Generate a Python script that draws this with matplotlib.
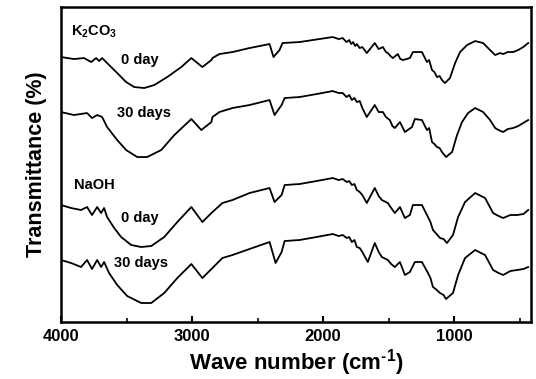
import matplotlib
matplotlib.use("Agg")
import matplotlib.pyplot as plt
from matplotlib.ticker import MultipleLocator

plt.rcParams['font.family'] = ['Liberation Sans', 'DejaVu Sans']
plt.rcParams['font.weight'] = 'bold'
plt.rcParams['mathtext.fontset'] = 'custom'
plt.rcParams['mathtext.rm'] = 'Liberation Sans:bold'
plt.rcParams['mathtext.bf'] = 'Liberation Sans:bold'
plt.rcParams['mathtext.default'] = 'bf'

# Wavenumber (cm^-1) and transmittance (a.u.)
k2co3_0_wn = [4000, 3901, 3824, 3770, 3732, 3709, 3686, 3648, 3571, 3503, 3441, 3365, 3288, 3189,
              3082, 3005, 2921, 2852, 2844, 2791, 2691, 2561, 2408, 2378, 2332, 2309, 2179, 2079,
              1926, 1880, 1850, 1820, 1800, 1785, 1770, 1755, 1742, 1720, 1700, 1666, 1605, 1575,
              1543, 1520, 1505, 1485, 1467, 1429, 1410, 1390, 1337, 1314, 1245, 1207, 1190, 1168,
              1150, 1130, 1110, 1092, 1069, 1031, 992, 954, 901, 839, 778, 725, 686, 650, 625,
              590, 549, 510, 472, 434]
k2co3_0_t = [265, 263, 264, 260, 264, 261, 264, 259, 249, 240, 235, 234, 237, 245,
             255, 264, 255, 262, 264, 268, 270, 274, 278, 265, 272, 279, 280, 282,
             285, 283, 284, 280, 282, 278, 280, 276, 278, 274, 275, 269, 279, 273,
             275, 270, 269, 266, 264, 268, 263, 262, 264, 270, 270, 260, 262, 252,
             250, 245, 246, 242, 239, 244, 259, 270, 277, 281, 279, 272, 267, 269, 268,
             270, 270, 272, 275, 279]

k2co3_30_wn = [4000, 3901, 3801, 3763, 3724, 3686, 3648, 3571, 3503, 3418, 3342, 3235, 3135, 3005,
               2929, 2852, 2844, 2791, 2691, 2561, 2408, 2370, 2316, 2293, 2179, 2049, 1926, 1880,
               1850, 1820, 1800, 1780, 1760, 1742, 1720, 1700, 1666, 1605, 1575, 1543, 1520, 1490,
               1470, 1452, 1413, 1375, 1321, 1299, 1245, 1207, 1190, 1168, 1150, 1130, 1110, 1092,
               1061, 1015, 977, 939, 893, 839, 778, 725, 686, 660, 625, 590, 549, 510, 472, 434]
k2co3_30_t = [210, 207, 209, 204, 207, 205, 195, 182, 172, 165, 165, 172, 187, 203,
              192, 200, 205, 210, 214, 217, 222, 207, 217, 224, 225, 228, 231, 229,
              229, 225, 227, 222, 224, 220, 221, 214, 205, 217, 210, 210, 205, 202,
              196, 194, 200, 190, 195, 203, 202, 192, 194, 180, 178, 175, 174, 170,
              165, 170, 187, 200, 209, 214, 210, 202, 194, 192, 190, 193, 194, 196, 199, 202]

naoh_0_wn = [4000, 3923, 3847, 3801, 3763, 3724, 3694, 3671, 3648, 3594, 3541, 3464, 3388, 3311,
             3212, 3112, 3005, 2921, 2852, 2768, 2691, 2561, 2408, 2370, 2316, 2293, 2179, 2049,
             1926, 1880, 1850, 1819, 1800, 1780, 1760, 1742, 1720, 1700, 1666, 1605, 1575, 1551,
             1505, 1480, 1452, 1413, 1375, 1337, 1314, 1245, 1199, 1180, 1161, 1140, 1107, 1080,
             1054, 1008, 969, 916, 839, 763, 702, 660, 625, 570, 518, 470, 434]
naoh_0_t = [117, 114, 112, 115, 107, 115, 109, 114, 105, 94, 85, 77, 75, 76,
            85, 100, 115, 100, 109, 119, 122, 129, 134, 120, 127, 137, 138, 141,
            144, 142, 143, 140, 141, 137, 138, 132, 130, 127, 119, 134, 126, 122,
            119, 114, 109, 115, 104, 107, 117, 117, 105, 100, 92, 89, 84, 83,
            79, 87, 105, 120, 129, 124, 109, 106, 104, 107, 107, 108, 112]

naoh_30_wn = [4000, 3923, 3847, 3801, 3763, 3724, 3694, 3671, 3633, 3571, 3495, 3388, 3311, 3212,
              3112, 3005, 2921, 2844, 2768, 2691, 2561, 2408, 2362, 2316, 2293, 2179, 2049, 1926,
              1880, 1850, 1819, 1800, 1780, 1760, 1742, 1720, 1700, 1658, 1605, 1575, 1551, 1505,
              1480, 1452, 1413, 1375, 1337, 1299, 1245, 1199, 1180, 1161, 1140, 1107, 1080, 1061,
              1008, 969, 916, 839, 763, 702, 660, 625, 570, 518, 470, 434]
naoh_30_t = [62, 59, 55, 62, 53, 62, 55, 60, 49, 37, 26, 19, 19, 29,
             44, 58, 44, 54, 64, 67, 73, 80, 59, 70, 81, 82, 85, 88,
             86, 87, 84, 85, 80, 82, 75, 74, 70, 60, 79, 70, 65, 62,
             58, 55, 60, 47, 50, 60, 60, 49, 44, 35, 33, 29, 27, 23,
             29, 47, 64, 72, 67, 52, 49, 47, 51, 52, 53, 55]

labels = ["K$_2$CO$_3$", "0 day", "30 days", "NaOH", "0 day", "30 days"]
label_wn = [3923, 3541, 3571, 3901, 3541, 3594]
label_t = [290, 262, 209, 137, 104, 59]

fig = plt.figure(figsize=(5.36, 3.79), dpi=100)
ax = fig.add_axes([0.1138, 0.1504, 0.877, 0.831])

for wn, t in [(k2co3_0_wn, k2co3_0_t), (k2co3_30_wn, k2co3_30_t),
              (naoh_0_wn, naoh_0_t), (naoh_30_wn, naoh_30_t)]:
    ax.plot(wn, t, color='black', lw=1.3, solid_joinstyle='round')

for s, x, y in zip(labels, label_wn, label_t):
    ax.text(x, y, s, fontsize=10.5, fontweight='bold', ha='left', va='center')

ax.set_xlim(4000, 412)
ax.set_ylim(0, 315)
ax.xaxis.set_major_locator(MultipleLocator(1000))
ax.xaxis.set_minor_locator(MultipleLocator(500))
ax.tick_params(axis='x', which='both', direction='in', top=False, labelsize=12, pad=5)
ax.tick_params(axis='x', which='major', length=4, width=1.5)
ax.tick_params(axis='x', which='minor', length=3, width=1.2)
ax.set_yticks([])
for lab in ax.get_xticklabels():
    lab.set_fontweight('bold')
for sp in ax.spines.values():
    sp.set_linewidth(1.8)

ax.set_xlabel("Wave number (cm$^{\\text{-1}}$)", fontsize=16, fontweight='bold', labelpad=2)
ax.set_ylabel("Transmittance (%)", fontsize=15.5, fontweight='bold', labelpad=10)

fig.savefig("out.png", dpi=100)
